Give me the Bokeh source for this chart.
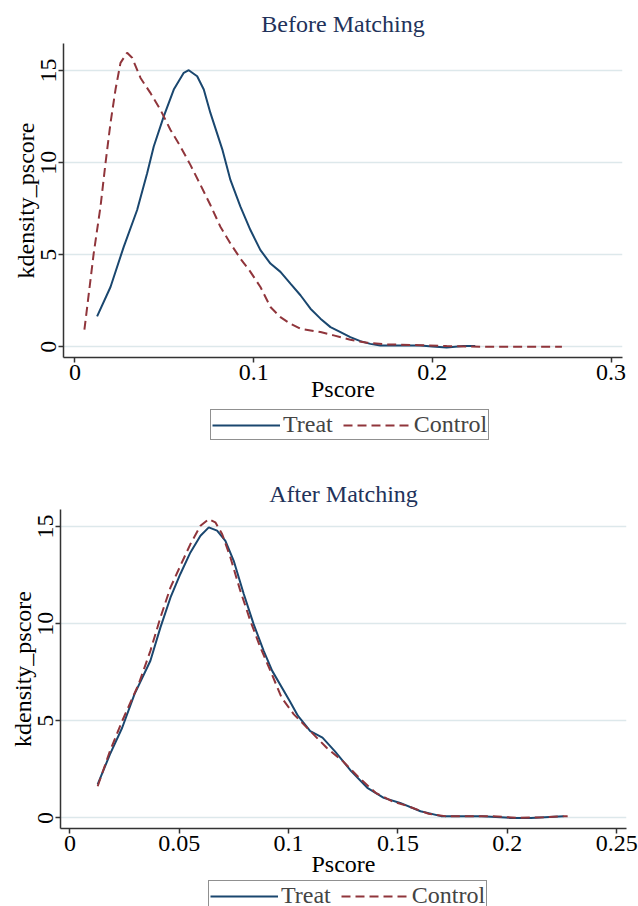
from bokeh.plotting import figure
from bokeh.models import Range1d, FixedTicker, Legend, LegendItem
from bokeh.layouts import column
from bokeh.embed import file_html
from bokeh.resources import INLINE

# ---------------- data: Before Matching ----------------
before_treat_x = [0.0124, 0.0199, 0.0273, 0.0348, 0.0404, 0.0441, 0.0497, 0.0553, 0.0609, 0.0637,
                  0.0684, 0.0721, 0.0758, 0.0826, 0.087, 0.0926, 0.0982, 0.1038, 0.1094, 0.115,
                  0.1206, 0.1262, 0.1318, 0.1374, 0.143, 0.1486, 0.1541, 0.1597, 0.1653, 0.1709,
                  0.1933, 0.2, 0.208, 0.2174, 0.224]
before_treat_y = [1.65, 3.25, 5.43, 7.43, 9.43, 10.88, 12.51, 13.97, 14.88, 15.02,
                  14.69, 13.97, 12.7, 10.68, 9.06, 7.61, 6.34, 5.25, 4.52, 4.07,
                  3.43, 2.8, 2.07, 1.53, 1.07, 0.8, 0.53, 0.31, 0.16, 0.07,
                  0.07, 0.02, -0.04, 0.05, 0.05]

before_control_x = [0.0053, 0.0105, 0.0143, 0.0171, 0.0199, 0.0227, 0.0255, 0.0292, 0.032, 0.0367,
                    0.0422, 0.0478, 0.0534, 0.059, 0.0646, 0.0702, 0.0758, 0.0814, 0.087, 0.0926,
                    0.0982, 0.1038, 0.1094, 0.115, 0.1206, 0.1262, 0.1374, 0.1448, 0.1541, 0.1635,
                    0.1747, 0.1933, 0.208, 0.231, 0.2725]
before_control_y = [0.93, 5.07, 7.61, 9.97, 12.15, 13.97, 15.42, 15.97, 15.7, 14.6,
                    13.79, 12.88, 11.79, 10.88, 9.88, 8.8, 7.7, 6.52, 5.61, 4.79,
                    4.07, 3.25, 2.16, 1.61, 1.25, 0.98, 0.8, 0.62, 0.38, 0.22,
                    0.13, 0.09, 0.04, 0.0, 0.0]

# ---------------- data: After Matching ----------------
after_treat_x = [0.0127, 0.0183, 0.0239, 0.0295, 0.0368, 0.0414, 0.046, 0.0505, 0.0551, 0.0597,
                 0.0635, 0.0673, 0.0711, 0.0749, 0.0795, 0.084, 0.0886, 0.0925, 0.1005, 0.1043,
                 0.1099, 0.1155, 0.1211, 0.1286, 0.136, 0.1435, 0.151, 0.1603, 0.1697, 0.1883,
                 0.2014, 0.2108, 0.2257]
after_treat_y = [1.72, 3.27, 4.64, 6.36, 8.09, 9.81, 11.35, 12.56, 13.67, 14.53,
                 14.96, 14.79, 14.27, 13.24, 11.53, 9.98, 8.6, 7.57, 6.02, 5.25,
                 4.47, 4.13, 3.44, 2.41, 1.55, 1.03, 0.77, 0.34, 0.09, 0.09,
                 0.0, 0.0, 0.09]

after_control_x = [0.0127, 0.0183, 0.0239, 0.0314, 0.0368, 0.0414, 0.046, 0.0505, 0.0551, 0.0597,
                   0.0635, 0.0665, 0.0696, 0.0734, 0.0779, 0.0825, 0.0871, 0.0917, 0.0968, 0.1024,
                   0.1099, 0.1174, 0.1248, 0.1323, 0.1398, 0.1472, 0.1547, 0.164, 0.1715, 0.1921,
                   0.2052, 0.2164, 0.2276]
after_control_y = [1.63, 3.44, 4.99, 6.88, 8.6, 10.32, 11.87, 12.98, 14.1, 15.04,
                   15.39, 15.22, 14.62, 13.41, 11.7, 10.15, 8.77, 7.57, 6.19, 5.33,
                   4.47, 3.61, 2.92, 2.06, 1.29, 0.86, 0.6, 0.21, 0.09, 0.09,
                   0.0, 0.03, 0.09]

# ---------------- ticks / labels ----------------
before_x_ticks = [0, 0.1, 0.2, 0.3]
before_x_labels = ["0", "0.1", "0.2", "0.3"]
after_x_ticks = [0, 0.05, 0.1, 0.15, 0.2, 0.25]
after_x_labels = ["0", "0.05", "0.1", "0.15", "0.2", "0.25"]
y_ticks = [0, 5, 10, 15]
y_labels = ["0", "5", "10", "15"]
series_names = ["Treat", "Control"]
titles = ["Before Matching", "After Matching"]

TREAT_COLOR = "#1a476f"
CONTROL_COLOR = "#90353b"
FONT = "Liberation Serif"
TREAT_STYLE = dict(line_color=TREAT_COLOR, line_width=2)
CONTROL_STYLE = dict(line_color=CONTROL_COLOR, line_width=2, line_dash="9 5")


def no_align(p):
    if "frame_align" in p.properties():
        p.frame_align = False


def make_plot(title, height, borders, xr, yr, xt, xl, tx, ty, cx, cy, title_standoff, xlabel_standoff):
    left, right, top, bottom = borders
    p = figure(width=638, height=height, output_backend="svg", toolbar_location=None,
               x_range=Range1d(*xr), y_range=Range1d(*yr),
               min_border_left=left, min_border_right=right,
               min_border_top=top, min_border_bottom=bottom)
    no_align(p)
    p.background_fill_color = "white"
    p.border_fill_color = "white"
    p.outline_line_color = None

    p.title.text = title
    p.title.align = "center"
    p.title.text_font = FONT
    p.title.text_font_size = "24px"
    p.title.text_font_style = "normal"
    p.title.text_color = "#22325a"
    p.title.standoff = title_standoff
    p.title.text_line_height = 1.0

    p.xgrid.visible = False
    p.ygrid.grid_line_color = "#dde8eb"
    p.ygrid.grid_line_width = 1.5
    p.ygrid.ticker = FixedTicker(ticks=y_ticks)

    p.xaxis.ticker = FixedTicker(ticks=xt)
    p.xaxis.major_label_overrides = {t: l for t, l in zip(xt, xl)}
    p.yaxis.ticker = FixedTicker(ticks=y_ticks)
    p.yaxis.major_label_overrides = {t: l for t, l in zip(y_ticks, y_labels)}
    p.yaxis.major_label_orientation = "vertical"

    p.xaxis.axis_label = "Pscore"
    p.yaxis.axis_label = "kdensity_pscore"
    for ax in (p.xaxis, p.yaxis):
        ax.axis_line_color = "#333333"
        ax.axis_line_width = 1.5
        ax.major_tick_line_color = "#333333"
        ax.major_tick_line_width = 1.5
        ax.major_tick_out = 5
        ax.major_tick_in = 0
        ax.minor_tick_out = 0
        ax.minor_tick_in = 0
        ax.major_label_text_font = FONT
        ax.major_label_text_font_size = "24px"
        ax.major_label_text_color = "black"
        ax.major_label_text_line_height = 1.0
        ax.major_label_standoff = 2
        ax.axis_label_text_font = FONT
        ax.axis_label_text_font_size = "24px"
        ax.axis_label_text_font_style = "normal"
        ax.axis_label_text_color = "black"
        ax.axis_label_text_line_height = 1.0
    p.xaxis.axis_label_standoff = xlabel_standoff
    p.yaxis.axis_label_standoff = 0

    p.line(tx, ty, **TREAT_STYLE)
    p.line(cx, cy, **CONTROL_STYLE)
    return p


def make_legend(height, left):
    q = figure(width=638, height=height, output_backend="svg", toolbar_location=None,
               x_range=Range1d(0, 1), y_range=Range1d(0, 1),
               x_axis_type=None, y_axis_type=None,
               min_border_left=left, min_border_right=0,
               min_border_top=0, min_border_bottom=0)
    no_align(q)
    q.outline_line_color = None
    q.xgrid.visible = False
    q.ygrid.visible = False
    q.background_fill_color = "white"
    q.border_fill_color = "white"
    # renderers kept outside the visible range: only their legend glyphs show
    r1 = q.line([5, 6], [5, 6], **TREAT_STYLE)
    r2 = q.line([5, 6], [5, 6], **CONTROL_STYLE)
    legend = Legend(items=[LegendItem(label=series_names[0], renderers=[r1]),
                           LegendItem(label=series_names[1], renderers=[r2])],
                    location="top_left", orientation="horizontal",
                    label_text_font=FONT, label_text_font_size="24px",
                    glyph_width=68, glyph_height=20, label_standoff=3, spacing=10,
                    padding=1, margin=0, label_height=22,
                    border_line_color="#222222", border_line_width=1.5,
                    background_fill_color="white", background_fill_alpha=1.0)
    q.add_layout(legend)
    return q


p1 = make_plot(titles[0], 409, (63, 16, 43, 52), (-0.0064, 0.3064), (-0.58, 16.47),
               before_x_ticks, before_x_labels,
               before_treat_x, before_treat_y, before_control_x, before_control_y, 13, -7)
l1 = make_legend(46, 210)
p2 = make_plot(titles[1], 425, (60, 12, 54, 52), (-0.0043, 0.2545), (-0.547, 15.88),
               after_x_ticks, after_x_labels,
               after_treat_x, after_treat_y, after_control_x, after_control_y, 5, -3)
l2 = make_legend(26, 208)

layout = column(p1, l1, p2, l2)
open("out.html", "w").write(file_html(layout, INLINE))
